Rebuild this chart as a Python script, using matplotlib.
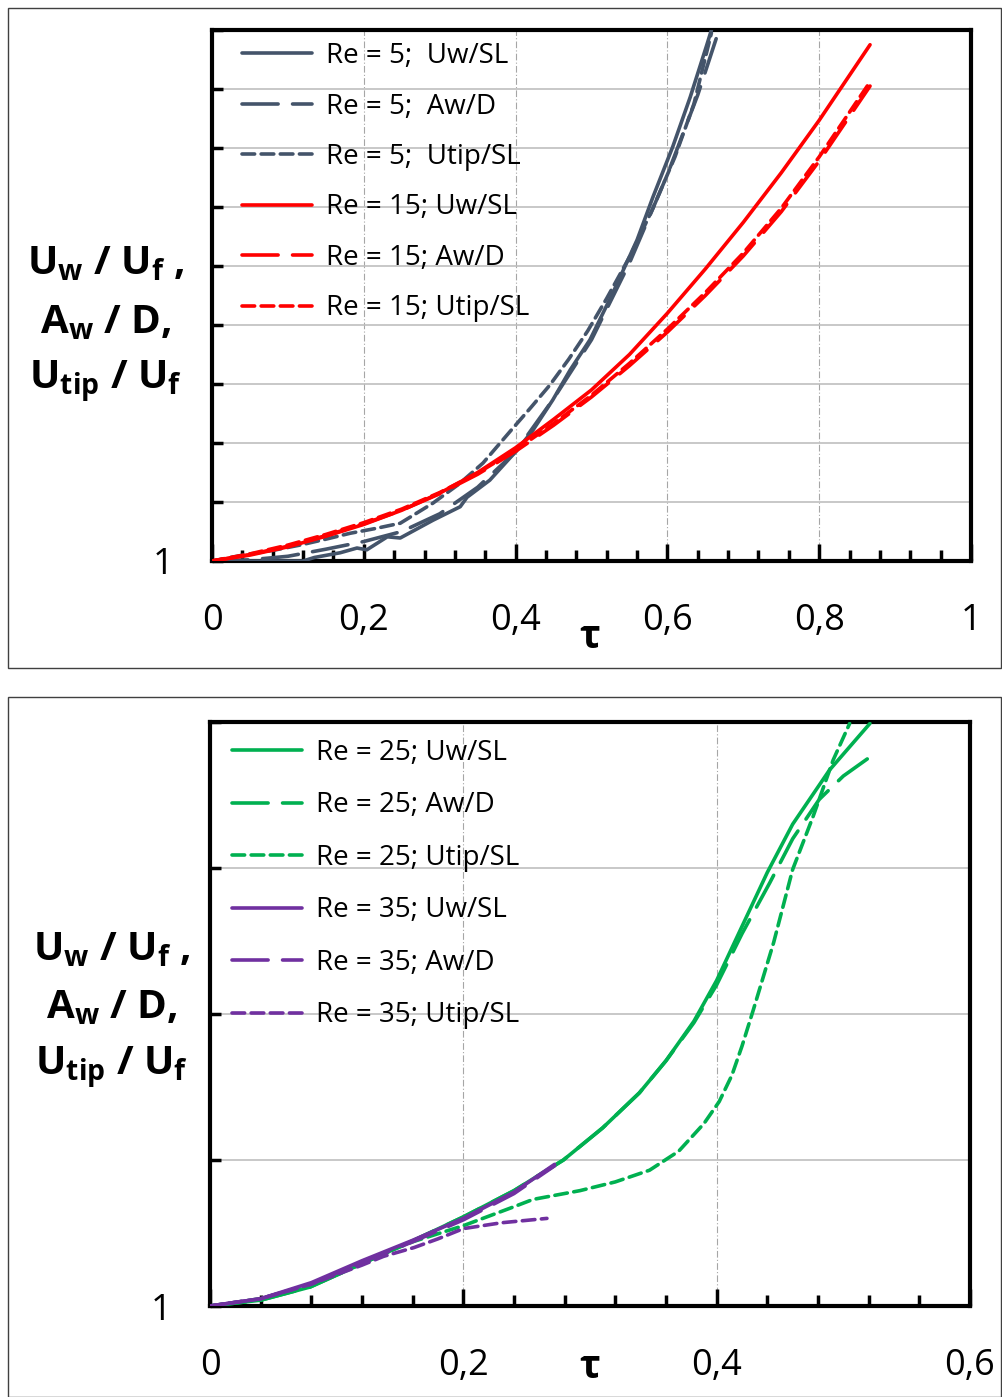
import matplotlib
matplotlib.use("Agg")
import matplotlib.pyplot as plt
from matplotlib.patches import Rectangle
from matplotlib.ticker import MultipleLocator, FuncFormatter

plt.rcParams.update({
    "font.family": "Open Sans",
    "mathtext.fontset": "custom",
    "mathtext.rm": "Open Sans",
    "mathtext.it": "Open Sans:italic",
    "mathtext.bf": "Open Sans:bold",
})

GRIS = "#44546A"
ROJO = "#FF0000"
VERDE = "#00B050"
MORA = "#7030A0"

# ---- panel superior: Re = 5 y Re = 15 ----
re5_uw_x = [0, 0.12, 0.135, 0.169, 0.191, 0.204, 0.231, 0.248, 0.291, 0.327, 0.336, 0.366,
            0.402, 0.423, 0.449, 0.472, 0.498, 0.528, 0.560, 0.581, 0.607, 0.630, 0.652, 0.658]
re5_uw_y = [1, 1, 1.06, 1.14, 1.22, 1.19, 1.41, 1.39, 1.69, 1.92, 2.08, 2.37,
            2.88, 3.22, 3.73, 4.24, 4.75, 5.54, 6.44, 7.17, 8.02, 8.86, 9.75, 10.0]
re5_aw_x = [0, 0.05, 0.10, 0.15, 0.20, 0.25, 0.30, 0.35, 0.40, 0.45, 0.50, 0.55, 0.60, 0.64, 0.668]
re5_aw_y = [1, 1.02, 1.08, 1.20, 1.33, 1.50, 1.80, 2.25, 2.85, 3.75, 4.75, 6.05, 7.55, 8.90, 10.0]
re5_tip_x = [0, 0.041, 0.08, 0.116, 0.15, 0.182, 0.215, 0.248, 0.291, 0.325, 0.357, 0.393,
             0.42, 0.445, 0.47, 0.495, 0.52, 0.55, 0.58, 0.61, 0.635, 0.658]
re5_tip_y = [1, 1.10, 1.18, 1.27, 1.37, 1.47, 1.55, 1.64, 1.98, 2.30, 2.66, 3.20,
             3.60, 3.98, 4.42, 4.90, 5.45, 6.15, 6.95, 7.85, 8.75, 9.95]

re15_uw_x = [0, 0.05, 0.10, 0.15, 0.20, 0.25, 0.30, 0.35, 0.40, 0.45, 0.50, 0.55, 0.60,
             0.65, 0.70, 0.75, 0.80, 0.867]
re15_uw_y = [1, 1.10, 1.24, 1.42, 1.62, 1.86, 2.15, 2.50, 2.92, 3.40, 3.90, 4.50, 5.20,
             5.95, 6.74, 7.58, 8.47, 9.75]
re15_aw_x = [0, 0.05, 0.10, 0.15, 0.20, 0.25, 0.30, 0.35, 0.40, 0.45, 0.50, 0.55, 0.60,
             0.65, 0.70, 0.75, 0.80, 0.867]
re15_aw_y = [1, 1.11, 1.25, 1.43, 1.63, 1.86, 2.14, 2.47, 2.86, 3.30, 3.78, 4.31, 4.88,
             5.50, 6.17, 6.92, 7.78, 9.05]
re15_tip_x = [0, 0.05, 0.10, 0.15, 0.20, 0.25, 0.30, 0.35, 0.40, 0.45, 0.50, 0.55, 0.60,
              0.65, 0.70, 0.75, 0.80, 0.867]
re15_tip_y = [1, 1.12, 1.27, 1.45, 1.65, 1.88, 2.16, 2.49, 2.88, 3.33, 3.81, 4.35, 4.93,
              5.55, 6.22, 6.98, 7.85, 9.12]

# ---- panel inferior: Re = 25 y Re = 35 ----
re25_uw_x = [0, 0.04, 0.079, 0.12, 0.161, 0.20, 0.24, 0.279, 0.31, 0.339, 0.36, 0.382,
             0.40, 0.42, 0.44, 0.46, 0.489, 0.521]
re25_uw_y = [1, 1.04, 1.13, 1.29, 1.45, 1.61, 1.79, 2.00, 2.22, 2.46, 2.68, 2.95,
             3.23, 3.60, 3.97, 4.30, 4.67, 4.99]
re25_aw_x = [0, 0.04, 0.079, 0.12, 0.161, 0.20, 0.24, 0.279, 0.31, 0.339, 0.36, 0.382,
             0.40, 0.42, 0.442, 0.46, 0.481, 0.50, 0.521]
re25_aw_y = [1, 1.04, 1.13, 1.29, 1.45, 1.61, 1.79, 2.00, 2.22, 2.46, 2.68, 2.94,
             3.20, 3.55, 3.90, 4.20, 4.47, 4.63, 4.76]
re25_tip_x = [0, 0.04, 0.08, 0.12, 0.16, 0.20, 0.24, 0.255, 0.292, 0.32, 0.347, 0.37,
              0.39, 0.402, 0.412, 0.42, 0.429, 0.445, 0.46, 0.476, 0.492, 0.505]
re25_tip_y = [1, 1.05, 1.15, 1.30, 1.44, 1.55, 1.68, 1.73, 1.79, 1.85, 1.93, 2.06,
              2.25, 2.40, 2.58, 2.78, 3.03, 3.49, 3.99, 4.35, 4.74, 4.99]

re35_uw_x = [0, 0.04, 0.08, 0.12, 0.16, 0.20, 0.24, 0.272]
re35_uw_y = [1, 1.05, 1.16, 1.31, 1.45, 1.60, 1.78, 1.97]
re35_aw_x = [0, 0.04, 0.08, 0.12, 0.16, 0.20, 0.24, 0.272]
re35_aw_y = [1, 1.05, 1.15, 1.30, 1.44, 1.59, 1.77, 1.96]
re35_tip_x = [0, 0.04, 0.08, 0.12, 0.137, 0.161, 0.18, 0.20, 0.23, 0.266]
re35_tip_y = [1, 1.05, 1.15, 1.28, 1.34, 1.40, 1.46, 1.53, 1.57, 1.60]

LARGO = (0, (10, 4))
CORTO = (0, (3.5, 1.8))
W, H = 1002, 1397

fig = plt.figure(figsize=(W / 100, H / 100), dpi=100)


def _ax(l, t, r, b):
    return fig.add_axes([l / W, 1 - b / H, (r - l) / W, (b - t) / H])


def _coma(v, p):
    return f"{v:g}".replace(".", ",")


def _panel(ax, xmax, ymax, series, leg_anchor, spacing):
    for x, y, c, ls, lab in series:
        ax.plot(x, y, color=c, ls=ls, lw=2.6, label=lab, solid_capstyle="round",
                dash_capstyle="round", zorder=3)
    ax.set_xlim(0, xmax)
    ax.set_ylim(1, ymax)
    ax.xaxis.set_major_locator(MultipleLocator(0.2))
    ax.xaxis.set_minor_locator(MultipleLocator(0.04))
    ax.yaxis.set_major_locator(MultipleLocator(1))
    ax.xaxis.set_major_formatter(FuncFormatter(_coma))
    ax.yaxis.set_major_formatter(FuncFormatter(lambda v, p: "1" if abs(v - 1) < 1e-9 else ""))
    ax.tick_params(axis="x", which="major", direction="in", length=12, width=2.5,
                   labelsize=26, pad=30)
    ax.tick_params(axis="x", which="minor", direction="in", length=8, width=2.5)
    ax.tick_params(axis="y", direction="in", length=8, width=2.5, labelsize=26, pad=28)
    ax.yaxis.grid(True, color="#BFBFBF", lw=1.2)
    ax.xaxis.grid(True, color="#A6A6A6", lw=0.8, ls=(0, (6, 2, 1, 2)))
    ax.set_axisbelow(True)
    for s in ax.spines.values():
        s.set_linewidth(3)
    ax.legend(loc="upper left", bbox_to_anchor=leg_anchor, frameon=False, fontsize=20,
              handlelength=2.52, handletextpad=0.5, labelspacing=spacing,
              borderpad=0, borderaxespad=0)


ax1 = _ax(212, 30, 971, 561)
_panel(ax1, 1.0, 10, [
    (re5_uw_x, re5_uw_y, GRIS, "-", "Re = 5;  Uw/SL"),
    (re5_aw_x, re5_aw_y, GRIS, LARGO, "Re = 5;  Aw/D"),
    (re5_tip_x, re5_tip_y, GRIS, CORTO, "Re = 5;  Utip/SL"),
    (re15_uw_x, re15_uw_y, ROJO, "-", "Re = 15; Uw/SL"),
    (re15_aw_x, re15_aw_y, ROJO, LARGO, "Re = 15; Aw/D"),
    (re15_tip_x, re15_tip_y, ROJO, CORTO, "Re = 15; Utip/SL"),
], (30 / 759, 1 - 12 / 531), 0.81)

ax2 = _ax(210, 722, 970, 1306)
_panel(ax2, 0.6, 5, [
    (re25_uw_x, re25_uw_y, VERDE, "-", "Re = 25; Uw/SL"),
    (re25_aw_x, re25_aw_y, VERDE, LARGO, "Re = 25; Aw/D"),
    (re25_tip_x, re25_tip_y, VERDE, CORTO, "Re = 25; Utip/SL"),
    (re35_uw_x, re35_uw_y, MORA, "-", "Re = 35; Uw/SL"),
    (re35_aw_x, re35_aw_y, MORA, LARGO, "Re = 35; Aw/D"),
    (re35_tip_x, re35_tip_y, MORA, CORTO, "Re = 35; Utip/SL"),
], (22 / 760, 1 - 17 / 584), 0.88)

# marcos exteriores
for (l, t, r, b) in [(8, 8, 1001, 668), (8, 697, 1001, 1397)]:
    fig.add_artist(Rectangle((l / W, 1 - b / H), (r - l) / W, (b - t) / H,
                             transform=fig.transFigure, fill=False, ec="#404040", lw=1))

ylab = ["U$_\\mathbf{w}$ / U$_\\mathbf{f}$ ,", "A$_\\mathbf{w}$ / D,",
        "U$_\\mathbf{tip}$ / U$_\\mathbf{f}$"]
for cx, ys in [(106, (264, 323, 382)), (112, (950, 1008, 1068))]:
    for t, yy in zip(ylab, ys):
        fig.text(cx / W, 1 - yy / H, t, ha="center", va="center", fontsize=29,
                 fontweight="bold")

for yy in (637, 1368):
    fig.text(590 / W, 1 - yy / H, "τ", ha="center", va="center", fontsize=28,
             fontweight="bold")

fig.savefig("out.png", dpi=100)
